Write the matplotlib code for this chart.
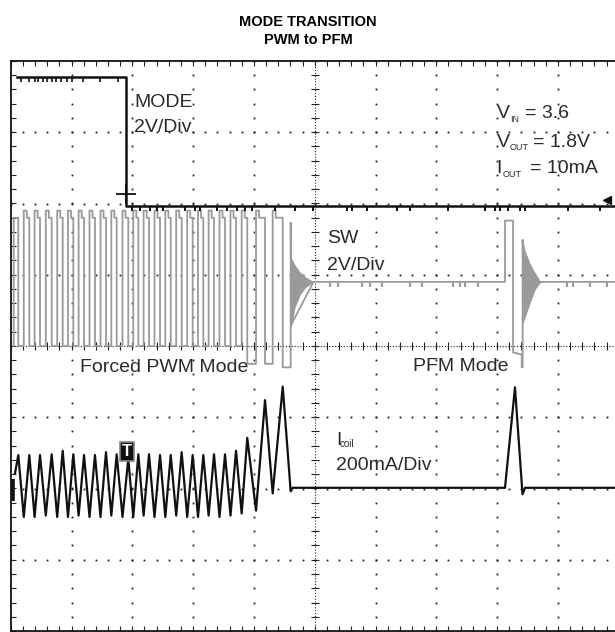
import numpy as np
import matplotlib.pyplot as plt

plt.rcParams['font.family'] = ['Liberation Sans', 'DejaVu Sans']

# all values are in scope divisions: x 0..10, y -4..4 (centre line = 0)

# MODE channel (black)
MODE_X = [0.10, 1.896, 1.896, 10.0]
MODE_Y = [3.77, 3.77, 1.97, 1.97]
MODE_HIGH_DIPS = [0.17, 0.30, 0.40, 0.45, 0.53, 0.60, 0.68, 0.75, 0.83, 0.93, 1.01, 1.19, 1.47, 1.77]
MODE_LOW_DIPS = [1.995, 2.127, 2.291, 2.406, 2.505, 2.867, 3.031, 3.113, 3.393, 3.557, 3.722,
                 3.853, 3.969, 4.347, 4.676, 4.972, 5.531, 5.614, 5.860, 6.354, 6.567, 7.192,
                 7.801, 7.965, 8.048, 8.179, 8.377, 8.459, 9.166, 9.692]

# coil current (black), forced PWM peaks / troughs
ICOIL_START = (0.07, -1.79)
ICOIL_PEAK_X = [0.125, 0.306, 0.482, 0.674, 0.855, 1.030, 1.206, 1.386, 1.567, 1.743, 1.934, 2.099,
                2.275, 2.456, 2.632, 2.812, 2.993, 3.168, 3.344, 3.525, 3.706, 3.891, 4.183, 4.474]
ICOIL_PEAK_Y = [-1.53, -1.53, -1.53, -1.52, -1.47, -1.52, -1.53, -1.53, -1.49, -1.52, -1.58, -1.52,
                -1.52, -1.53, -1.53, -1.49, -1.53, -1.53, -1.52, -1.52, -1.47, -1.29, -0.76, -0.57]
ICOIL_TROUGH_X = [0.215, 0.393, 0.577, 0.765, 0.942, 1.117, 1.296, 1.477, 1.655, 1.839, 2.016, 2.186,
                  2.365, 2.543, 2.722, 2.903, 3.081, 3.255, 3.434, 3.615, 3.799, 4.035, 4.309]
ICOIL_TROUGH_Y = [-2.40, -2.40, -2.38, -2.40, -2.40, -2.38, -2.40, -2.40, -2.38, -2.40, -2.40, -2.38,
                  -2.40, -2.40, -2.38, -2.40, -2.40, -2.38, -2.40, -2.38, -2.35, -2.31, -2.07]
ICOIL_ZERO = -1.99
ICOIL_TAIL_X = [4.605, 4.64, 8.13, 8.294, 8.418, 8.46, 10.0]
ICOIL_TAIL_Y = [-2.04, ICOIL_ZERO, ICOIL_ZERO, -0.58, -2.08, ICOIL_ZERO, ICOIL_ZERO]

# switch node (grey)
SW_HIGH_PEAK = 1.90
SW_HIGH = 1.80
SW_LOW = [0.0] * 21 + [-0.25, -0.25, -0.30]
SW_IDLE = 0.90
SW_TAIL_X = [4.605, 4.605, 4.615, 4.98, 8.13, 8.13, 8.262, 8.262, 8.405, 8.405, 8.42, 8.42, 8.43, 10.0]
SW_TAIL_Y = [-0.30, 1.73, 0.30, SW_IDLE, SW_IDLE, 1.76, 1.76, -0.09, -0.12, -0.30, -0.30, 1.49, SW_IDLE, SW_IDLE]
RING1_X = [4.61, 4.68, 4.76, 4.85, 4.93, 4.98]
RING1_UP = [1.25, 1.13, 1.04, 0.97, 0.93, 0.90]
RING1_LO = [0.25, 0.55, 0.72, 0.82, 0.87, 0.90]
RING2_X = [8.42, 8.46, 8.54, 8.63, 8.72]
RING2_UP = [1.49, 1.34, 1.16, 1.02, 0.90]
RING2_LO = [0.30, 0.40, 0.60, 0.80, 0.90]
SW_IDLE_DIPS = [5.252, 5.389, 5.773, 5.909, 6.102, 6.568, 6.760, 7.280, 7.390, 7.472, 7.691,
                9.145, 9.248, 9.528, 9.803]

SHOULDER = 0.05
GREY = '#9a9a9a'
TXT = '#2a2a2a'

fig = plt.figure(figsize=(6.15, 6.32), dpi=100)
ax = fig.add_axes([10.7 / 615, 1 / 632, 608 / 615, 570 / 632])
ax.set_xlim(0, 10)
ax.set_ylim(-4, 4)
ax.set_xticks([])
ax.set_yticks([])
for s in ax.spines.values():
    s.set_linewidth(1.3)
    s.set_color('#111111')

# graticule
fine_x = np.arange(0, 10.01, 0.2)
fine_y = np.arange(-4, 4.01, 0.2)
for k in [1, 2, 3, 4, 6, 7, 8, 9]:
    ax.plot(np.full(fine_y.size, k), fine_y, ls='none', marker='s', ms=1.3, mew=0, color='#222222', zorder=1)
for m in [-3, -2, -1, 1, 2, 3]:
    ax.plot(fine_x, np.full(fine_x.size, m), ls='none', marker='s', ms=1.3, mew=0, color='#222222', zorder=1)
ax.axvline(5, color='#222222', lw=0.8, ls=(0, (1, 1.6)), zorder=1)
ax.axhline(0, color='#222222', lw=0.8, ls=(0, (1, 1.6)), zorder=1)
ax.plot(np.full(fine_y.size, 5), fine_y, ls='none', marker='_', ms=6, mew=0.8, color='#222222', zorder=1)
ax.plot(fine_x, np.zeros(fine_x.size), ls='none', marker='|', ms=6, mew=0.8, color='#222222', zorder=1)
for yb in [-4, 4]:
    ax.plot(fine_x, np.full(fine_x.size, yb), ls='none', marker='|', ms=7, mew=0.8, color='#222222', zorder=1)
ax.plot(np.zeros(fine_y.size), fine_y, ls='none', marker='_', ms=7, mew=0.8, color='#222222', zorder=1)

# SW trace
sw_x = [0.05, 0.05]
sw_y = [SW_LOW[0], SW_HIGH]
for i, px in enumerate(ICOIL_PEAK_X):
    sw_x += [px, px]
    sw_y += [SW_HIGH, SW_LOW[i]]
    if i < len(ICOIL_TROUGH_X):
        tx = ICOIL_TROUGH_X[i]
        sw_x += [tx, tx, tx + SHOULDER, tx + SHOULDER]
        sw_y += [SW_LOW[i], SW_HIGH_PEAK, SW_HIGH_PEAK, SW_HIGH]
sw_x += SW_TAIL_X
sw_y += SW_TAIL_Y
ax.plot(sw_x, sw_y, color=GREY, lw=1.3, zorder=2)
ax.fill_between(RING1_X, RING1_LO, RING1_UP, color=GREY, lw=0, zorder=2)
ax.fill_between(RING2_X, RING2_LO, RING2_UP, color=GREY, lw=0, zorder=2)
ax.vlines(SW_IDLE_DIPS, SW_IDLE - 0.07, SW_IDLE, color=GREY, lw=1.5, zorder=2)

# MODE trace
ax.plot(MODE_X, MODE_Y, color='#111111', lw=1.8, zorder=3)
ax.vlines(MODE_HIGH_DIPS, MODE_Y[0] - 0.06, MODE_Y[0], color='#111111', lw=1.2, zorder=3)
ax.vlines(MODE_LOW_DIPS, MODE_Y[-1] - 0.07, MODE_Y[-1], color='#111111', lw=1.4, zorder=3)
ax.plot([1.896], [2.13], marker='+', ms=14, mew=1.3, color='#111111', zorder=3)
ax.plot([9.80], [2.05], marker='<', ms=6, color='#111111', zorder=3)

# coil current trace
ic_x = [ICOIL_START[0]]
ic_y = [ICOIL_START[1]]
for i, px in enumerate(ICOIL_PEAK_X):
    ic_x.append(px)
    ic_y.append(ICOIL_PEAK_Y[i])
    if i < len(ICOIL_TROUGH_X):
        ic_x.append(ICOIL_TROUGH_X[i])
        ic_y.append(ICOIL_TROUGH_Y[i])
ic_x += ICOIL_TAIL_X
ic_y += ICOIL_TAIL_Y
ax.plot(ic_x, ic_y, color='#111111', lw=1.6, zorder=3)
ax.plot([0.03, 0.03], [-1.87, -2.18], color='#111111', lw=2.6, zorder=3, solid_capstyle='butt')

ax.text(1.908, -1.487, 'T', color='white', fontsize=12, fontweight='bold', ha='center', va='center',
        zorder=5, bbox=dict(boxstyle='square,pad=0.12', fc='#111111', ec='#888888', lw=1.2))

# labels
fs = 14
ax.text(2.033, 3.358, 'MODE', fontsize=fs, color=TXT, zorder=4)
ax.text(2.033, 3.007, '2V/Div', fontsize=fs, color=TXT, zorder=4)
ax.text(5.202, 1.440, 'SW', fontsize=fs, color=TXT, zorder=4)
ax.text(5.202, 1.065, '2V/Div', fontsize=fs, color=TXT, zorder=4)
ax.text(1.140, -0.364, 'Forced PWM Mode', fontsize=fs, color=TXT, zorder=4)
ax.text(6.622, -0.350, 'PFM Mode', fontsize=fs, color=TXT, zorder=4)
ax.text(5.350, -1.393, 'I', fontsize=fs, color=TXT, zorder=4)
ax.text(5.416, -1.417, 'coil', fontsize=7, color=TXT, zorder=4)
ax.text(5.350, -1.744, '200mA/Div', fontsize=fs, color=TXT, zorder=4)

ax.text(7.993, 3.195, 'V', fontsize=fs, color=TXT, zorder=4)
ax.text(8.212, 3.147, 'IN', fontsize=6.5, color=TXT, zorder=4)
ax.text(8.459, 3.195, '= 3.6', fontsize=fs, color=TXT, zorder=4)
ax.text(7.993, 2.796, 'V', fontsize=fs, color=TXT, zorder=4)
ax.text(8.212, 2.750, 'OUT', fontsize=6.5, color=TXT, zorder=4)
ax.text(8.595, 2.796, '= 1.8V', fontsize=fs, color=TXT, zorder=4)
ax.text(7.993, 2.423, 'I', fontsize=fs, color=TXT, zorder=4)
ax.text(8.086, 2.366, 'OUT', fontsize=6.5, color=TXT, zorder=4)
ax.text(8.541, 2.423, '= 10mA', fontsize=fs, color=TXT, zorder=4)

fig.text(308 / 615, 1 - 26 / 632, 'MODE TRANSITION', fontsize=10.5, fontweight='bold', ha='center', va='baseline')
fig.text(308 / 615, 1 - 44 / 632, 'PWM to PFM', fontsize=10.5, fontweight='bold', ha='center', va='baseline')

fig.savefig('out.png', dpi=100)
